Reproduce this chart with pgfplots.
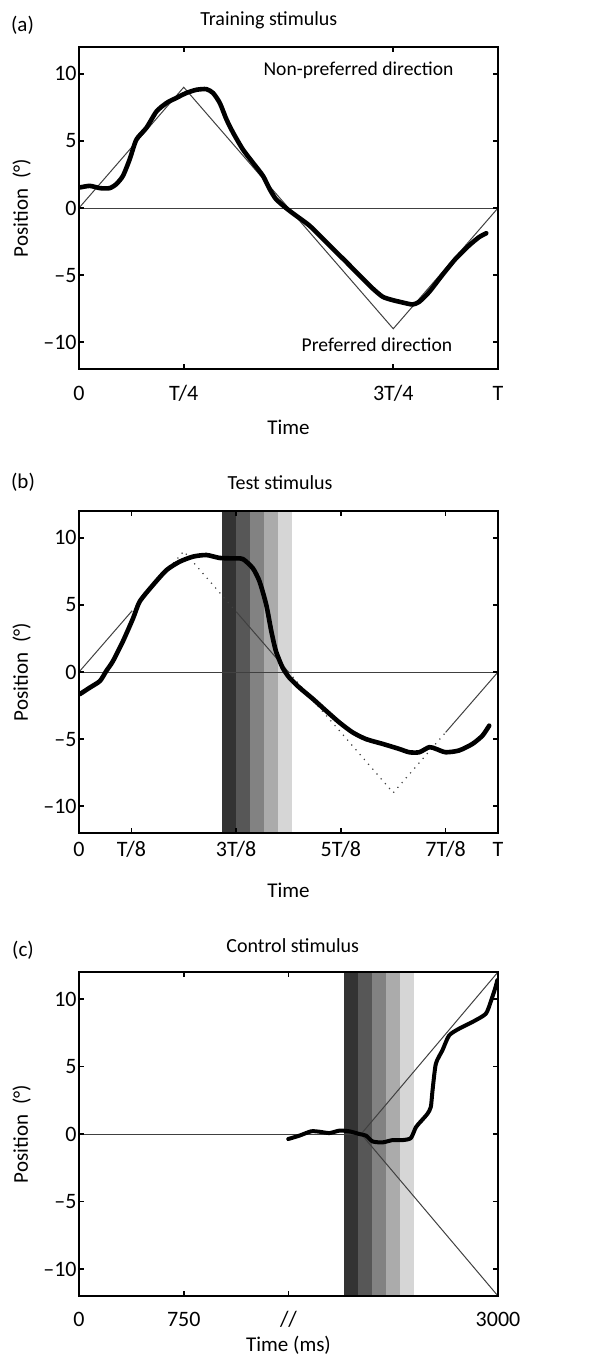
\documentclass[border=0pt]{standalone}
\usepackage{fontspec}
\setmainfont{Carlito}
\usepackage{pgfplots}
\pgfplotsset{compat=1.18}
\definecolor{bandA}{gray}{0.20}
\definecolor{bandB}{gray}{0.34}
\definecolor{bandC}{gray}{0.51}
\definecolor{bandD}{gray}{0.67}
\definecolor{bandE}{gray}{0.84}
\definecolor{thinc}{gray}{0.25}
\pgfplotsset{
  panel/.style={
    scale only axis, width=209.5pt, height=161pt,
    ymin=-12, ymax=12,
    ytick={-10,-5,0,5,10}, yticklabels={–10,–5,0,5,10},
    axis line style={line width=0.8pt},
    major tick length=2.6pt,
    every tick/.style={line width=0.8pt, black},
    tick align=inside,
    axis on top,
    font=\fontsize{10}{12}\selectfont,
    tick label style={font=\fontsize{11}{13}\selectfont},
    yticklabel style={anchor=east, inner sep=0pt, xshift=-1pt},
    ylabel={Position\hspace{5pt}(°)},
    every axis y label/.style={at={(axis description cs:0,0.5)}, xshift=-28.7pt, anchor=center, rotate=90, font=\fontsize{10.5}{12}\selectfont},
    every axis title/.style={anchor=center},
    thin line/.style={color=thinc, line width=0.5pt},
    thick curve/.style={black, line width=2.3pt, line join=round, line cap=round, smooth, tension=0.4},
  }
}
\begin{document}
\begin{tikzpicture}
\path (0,0) rectangle (304.5pt,-682pt);

% ---------------- (a) ----------------
\node[font=\fontsize{10.5}{12}\selectfont] at (11.25pt,-12.5pt) {(a)};
\begin{axis}[panel,
  at={(39.5pt,-184.5pt)}, anchor=south west,
  xmin=0, xmax=1,
  xtick={0,0.25,0.75,1}, xticklabels={0,T/4,3T/4,T},
  xticklabel style={anchor=base, yshift=-15.5pt},
  xlabel={Time},
  every axis x label/.style={at={(axis description cs:0.5,0)}, yshift=-29pt, anchor=center, font=\fontsize{10.5}{12}\selectfont},
  title={Training stimulus},
  title style={at={(axis description cs:0.453,1)}, yshift=13.5pt},
]
\addplot[thin line] coordinates {(0,0) (1,0)};
\addplot[thin line] coordinates {(0,0) (0.25,9) (0.75,-9) (1,0)};
\addplot[thick curve] coordinates {
(0.002,1.53) (0.026,1.65) (0.05,1.48) (0.073,1.48) (0.089,1.78) (0.105,2.4)
(0.121,3.63) (0.137,5.1) (0.161,5.98) (0.185,7.2) (0.209,7.83) (0.232,8.2)
(0.256,8.57) (0.28,8.81) (0.304,8.86) (0.32,8.57) (0.336,7.83) (0.352,6.6)
(0.368,5.6) (0.391,4.37) (0.415,3.38) (0.439,2.4) (0.455,1.41) (0.47,0.67)
(0.494,0) (0.518,-0.57) (0.55,-1.31) (0.59,-2.54) (0.63,-3.78) (0.669,-5.0)
(0.701,-6.0) (0.725,-6.62) (0.748,-6.86) (0.772,-7.04) (0.796,-7.19) (0.812,-6.99)
(0.836,-6.25) (0.867,-5.0) (0.899,-3.78) (0.931,-2.79) (0.955,-2.17) (0.972,-1.88)};
\node[font=\fontsize{9.8}{12}\selectfont] at (axis cs:0.667,10.3) {Non-preferred direction};
\node[font=\fontsize{9.8}{12}\selectfont] at (axis cs:0.711,-10.2) {Preferred direction};
\end{axis}

% ---------------- (b) ----------------
\node[font=\fontsize{10.5}{12}\selectfont] at (11.5pt,-241pt) {(b)};
\begin{axis}[panel,
  at={(39.5pt,-416.5pt)}, anchor=south west,
  xmin=0, xmax=1,
  xtick={0,0.125,0.375,0.625,0.875,1}, xticklabels={0,T/8,3T/8,5T/8,7T/8,T},
  xticklabel style={anchor=base, yshift=-11.5pt},
  xlabel={Time},
  every axis x label/.style={at={(axis description cs:0.5,0)}, yshift=-28.5pt, anchor=center, font=\fontsize{10.5}{12}\selectfont},
  title={Test stimulus},
  title style={at={(axis description cs:0.48,1)}, yshift=14pt},
]
\addplot[fill=bandA, draw=none] coordinates {(0.3417,-12) (0.3417,12) (0.375,12) (0.375,-12)} -- cycle;
\addplot[fill=bandB, draw=none] coordinates {(0.375,-12) (0.375,12) (0.4083,12) (0.4083,-12)} -- cycle;
\addplot[fill=bandC, draw=none] coordinates {(0.4083,-12) (0.4083,12) (0.4417,12) (0.4417,-12)} -- cycle;
\addplot[fill=bandD, draw=none] coordinates {(0.4417,-12) (0.4417,12) (0.475,12) (0.475,-12)} -- cycle;
\addplot[fill=bandE, draw=none] coordinates {(0.475,-12) (0.475,12) (0.5083,12) (0.5083,-12)} -- cycle;
\addplot[thin line] coordinates {(0,0) (1,0)};
\addplot[thin line] coordinates {(0,0) (0.125,4.5)};
\addplot[thin line] coordinates {(0.375,4.5) (0.5,0)};
\addplot[thin line] coordinates {(0.875,-4.5) (1,0)};
\addplot[color=thinc, line width=0.6pt, dash pattern=on 0.6pt off 2.6pt] coordinates {(0.125,4.5) (0.25,9) (0.375,4.5)};
\addplot[color=thinc, line width=0.6pt, dash pattern=on 0.6pt off 2.6pt] coordinates {(0.5,0) (0.75,-9) (0.875,-4.5)};
\addplot[thick curve] coordinates {
(0.002,-1.65) (0.026,-1.16) (0.05,-0.67) (0.065,0.07) (0.081,0.81) (0.105,2.3)
(0.129,4.0) (0.145,5.26) (0.177,6.5) (0.209,7.6) (0.24,8.22) (0.272,8.6)
(0.304,8.72) (0.336,8.5) (0.367,8.47) (0.391,8.42) (0.415,7.73) (0.431,6.74)
(0.447,5.0) (0.459,3.04) (0.47,1.56) (0.486,0.32) (0.502,-0.42) (0.526,-1.16)
(0.558,-2.0) (0.59,-2.9) (0.621,-3.75) (0.653,-4.5) (0.685,-5.0) (0.725,-5.36)
(0.764,-5.73) (0.788,-5.98) (0.812,-5.98) (0.836,-5.6) (0.852,-5.73) (0.875,-5.98)
(0.907,-5.85) (0.939,-5.36) (0.963,-4.74) (0.979,-4.0)};
\end{axis}

% ---------------- (c) ----------------
\node[font=\fontsize{10.5}{12}\selectfont] at (11.5pt,-475pt) {(c)};
\begin{axis}[panel,
  at={(39.5pt,-648pt)}, anchor=south west, height=162pt,
  xmin=0, xmax=3000,
  xtick={0,750,1500,3000}, xticklabels={0,750,//,3000},
  xticklabel style={anchor=base, yshift=-15pt},
  xlabel={Time (ms)},
  every axis x label/.style={at={(axis description cs:0.5,0)}, yshift=-24.5pt, anchor=center, font=\fontsize{10.5}{12}\selectfont},
  title={Control stimulus},
  title style={at={(axis description cs:0.51,1)}, yshift=13pt},
]
\addplot[fill=bandA, draw=none] coordinates {(1900,-12) (1900,12) (2000,12) (2000,-12)} -- cycle;
\addplot[fill=bandB, draw=none] coordinates {(2000,-12) (2000,12) (2100,12) (2100,-12)} -- cycle;
\addplot[fill=bandC, draw=none] coordinates {(2100,-12) (2100,12) (2200,12) (2200,-12)} -- cycle;
\addplot[fill=bandD, draw=none] coordinates {(2200,-12) (2200,12) (2300,12) (2300,-12)} -- cycle;
\addplot[fill=bandE, draw=none] coordinates {(2300,-12) (2300,12) (2400,12) (2400,-12)} -- cycle;
\addplot[thin line] coordinates {(0,0) (2020,0)};
\addplot[thin line] coordinates {(2020,0) (3000,12)};
\addplot[thin line] coordinates {(2020,0) (3000,-12)};
\addplot[thick curve, line width=2pt] coordinates {
(1498,-0.37) (1578,-0.12) (1662,0.2) (1721,0.17) (1793,0.07) (1864,0.25)
(1936,0.2) (2007,0) (2055,-0.12) (2102,-0.55) (2174,-0.62) (2245,-0.45)
(2317,-0.45) (2376,-0.3) (2412,0.5) (2448,0.94) (2495,1.5) (2519,2.0)
(2531,3.2) (2555,5.2) (2602,6.2) (2650,7.3) (2721,7.8) (2817,8.3)
(2912,8.9) (2948,9.8) (2983,10.9) (2995,11.4)};
\end{axis}
\end{tikzpicture}
\end{document}
